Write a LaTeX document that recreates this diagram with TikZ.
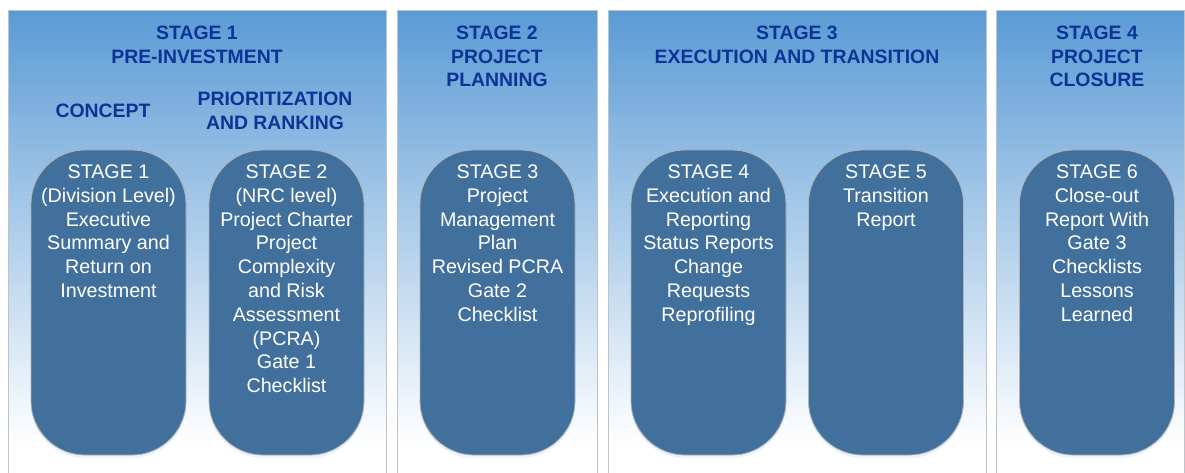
\documentclass[tikz,border=0pt]{standalone}
\usepackage{fontspec}
\setmainfont{Liberation Sans}
\usetikzlibrary{shadows}
\definecolor{panelblue}{RGB}{91,155,213}
\definecolor{pillfill}{RGB}{65,112,156}
\definecolor{headblue}{RGB}{12,52,150}
\definecolor{paneledge}{RGB}{190,195,200}
\tikzset{
  panelshade/.style={top color=panelblue, bottom color=white},
  paneledge/.style={draw=paneledge, line width=1pt},
  pill/.style={draw=black!30, line width=0.8pt, fill=pillfill, rounded corners=54pt,
    minimum width=155pt, minimum height=305pt, inner sep=0pt,
    drop shadow={opacity=0.12, shadow xshift=0pt, shadow yshift=-3pt, fill=panelblue}},
  pilltext/.style={anchor=north, inner sep=0pt, align=center, text=white,
    font=\fontsize{19.7}{23.8}\selectfont},
  head/.style={anchor=north, inner sep=0pt, align=center, text=headblue,
    font=\bfseries\fontsize{19.4}{23.5}\selectfont}
}
\newcommand{\stagepanel}[2]{%
  \fill[white] (#1,11) rectangle (#2,490);
  \shade[panelshade] (#1,11) rectangle (#2,445);
  \draw[paneledge] (#1,11) rectangle (#2,490);
}
\begin{document}
\begin{tikzpicture}[x=1pt,y=-1pt]
\useasboundingbox (0,0) rectangle (1185,473);
\fill[white] (0,0) rectangle (1185,473);
\clip (0,0) rectangle (1185,473);
% panels
\stagepanel{8}{386}
\stagepanel{397}{597}
\stagepanel{608}{986}
\stagepanel{996}{1184}
% headers
\node[head] (h1) at (197,26) {STAGE 1\\PRE-INVESTMENT};
\node[head] (h1a) at (103,104) {CONCEPT};
\node[head] (h1b) at (275,92) {PRIORITIZATION\\AND RANKING};
\node[head] (h2) at (497,26) {STAGE 2\\PROJECT\\PLANNING};
\node[head] (h3) at (797,26) {STAGE 3\\EXECUTION AND TRANSITION};
\node[head] (h4) at (1097,26) {STAGE 4\\PROJECT\\CLOSURE};
% pills
\node[pill] (s1) at (108.5,302.5) {};
\node[pill] (s2) at (286.5,302.5) {};
\node[pill] (s3) at (497.5,302.5) {};
\node[pill] (s4) at (708.5,302.5) {};
\node[pill] (s5) at (886,302.5) {};
\node[pill] (s6) at (1097,302.5) {};
% pill texts
\node[pilltext] (t1) at ([yshift=-15pt]s1.north) {STAGE 1\\(Division Level)\\Executive\\Summary and\\Return on\\Investment};
\node[pilltext] (t2) at ([yshift=-15pt]s2.north) {STAGE 2\\(NRC level)\\Project Charter\\Project\\Complexity\\and Risk\\Assessment\\(PCRA)\\Gate 1\\Checklist};
\node[pilltext] (t3) at ([yshift=-15pt]s3.north) {STAGE 3\\Project\\Management\\Plan\\Revised PCRA\\Gate 2\\Checklist};
\node[pilltext] (t4) at ([yshift=-15pt]s4.north) {STAGE 4\\Execution and\\Reporting\\Status Reports\\Change\\Requests\\Reprofiling};
\node[pilltext] (t5) at ([yshift=-15pt]s5.north) {STAGE 5\\Transition\\Report};
\node[pilltext] (t6) at ([yshift=-15pt]s6.north) {STAGE 6\\Close-out\\Report With\\Gate 3\\Checklists\\Lessons\\Learned};
\end{tikzpicture}
\end{document}
